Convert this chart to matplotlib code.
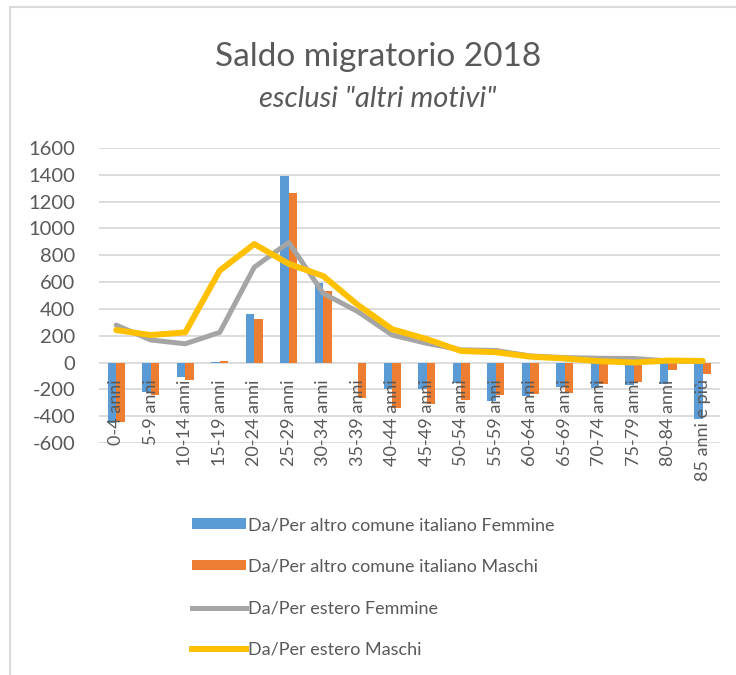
"""
Saldo migratorio 2018 - esclusi "altri motivi"

运行：
    python plot.py
"""

import matplotlib

matplotlib.use("Agg")
import matplotlib.pyplot as plt
import numpy as np
from matplotlib.lines import Line2D
from matplotlib.patches import Patch, Rectangle


CATEGORIES = [
    "0-4 anni", "5-9 anni", "10-14 anni", "15-19 anni", "20-24 anni",
    "25-29 anni", "30-34 anni", "35-39 anni", "40-44 anni", "45-49 anni",
    "50-54 anni", "55-59 anni", "60-64 anni", "65-69 anni", "70-74 anni",
    "75-79 anni", "80-84 anni", "85 anni e più",
]
COMUNE_FEMMINE = [-450, -220, -110, 5, 360, 1390, 595, 0, -200, -200,
                  -150, -285, -250, -180, -192, -168, -160, -418]
COMUNE_MASCHI = [-440, -245, -130, 10, 322, 1265, 530, -265, -340, -310,
                 -276, -242, -238, -228, -162, -145, -56, -84]
ESTERO_FEMMINE = [279, 168, 140, 225, 711, 896, 516, 380, 205, 143,
                  95, 90, 49, 37, 32, 30, 12, 7]
ESTERO_MASCHI = [242, 205, 225, 686, 884, 736, 645, 430, 248, 175,
                 86, 77, 44, 30, 10, 0, 15, 12]
LABELS = [
    "Da/Per altro comune italiano Femmine",
    "Da/Per altro comune italiano Maschi",
    "Da/Per estero Femmine",
    "Da/Per estero Maschi",
]
Y_TICKS = list(range(-600, 1601, 200))

BLUE = "#5B9BD5"
ORANGE = "#ED7D31"
GREY = "#A5A5A5"
YELLOW = "#FFC000"
TEXT = "#595959"
GRID = "#D9D9D9"


def draw_chart() -> None:
    plt.rcParams["font.family"] = ["Lato", "DejaVu Sans"]

    fig = plt.figure(figsize=(7.36, 6.75), dpi=100)
    ax = fig.add_axes([99 / 736, 1 - 443 / 675, 621 / 736, 295 / 675])

    x = np.arange(len(CATEGORIES))
    w = 0.25
    ax.bar(x - w / 2, COMUNE_FEMMINE, w, color=BLUE, zorder=2)
    ax.bar(x + w / 2, COMUNE_MASCHI, w, color=ORANGE, zorder=2)
    ax.plot(x, ESTERO_FEMMINE, color=GREY, lw=3.6, zorder=3,
            solid_capstyle="round", solid_joinstyle="round")
    ax.plot(x, ESTERO_MASCHI, color=YELLOW, lw=4.3, zorder=4,
            solid_capstyle="round", solid_joinstyle="round")

    ax.set_xlim(-0.5, len(CATEGORIES) - 0.5)
    ax.set_ylim(-600, 1600)
    ax.set_yticks(Y_TICKS)
    ax.set_yticklabels([str(v) for v in Y_TICKS], fontsize=14.5, color=TEXT)
    ax.grid(axis="y", color=GRID, lw=1.3, zorder=0)
    ax.tick_params(axis="y", length=0, pad=17)

    # etichette categorie attaccate all'asse dello zero, come in Excel
    ax.spines["bottom"].set_position(("data", 0))
    for side in ["top", "right", "left", "bottom"]:
        ax.spines[side].set_visible(False)
    ax.set_xticks(x)
    ax.set_xticklabels(CATEGORIES, rotation=90, fontsize=13, color=TEXT,
                       va="top", ha="center")
    ax.tick_params(axis="x", length=0, pad=12)
    ax.xaxis.set_zorder(5)

    fig.text(0.5136, 1 - 57 / 675, "Saldo migratorio 2018", fontsize=24,
             color=TEXT, ha="center", va="center")
    fig.text(0.5136, 1 - 99 / 675, 'esclusi "altri motivi"', fontsize=21,
             style="italic", color=TEXT, ha="center", va="center")

    handles = [
        Patch(facecolor=BLUE),
        Patch(facecolor=ORANGE),
        Line2D([], [], color=GREY, lw=3.6),
        Line2D([], [], color=YELLOW, lw=4.3),
    ]
    leg = fig.legend(handles, LABELS, loc="upper left",
                     bbox_to_anchor=(183 / 736, 1 - 508 / 675), frameon=False,
                     fontsize=13, handlelength=3.0, handleheight=0.5,
                     handletextpad=0.1, labelspacing=1.42, borderpad=0)
    for t in leg.get_texts():
        t.set_color(TEXT)

    fig.add_artist(Rectangle((10 / 736, -0.02), 1.05, 1 - 7 / 675 + 0.02,
                             transform=fig.transFigure, fill=False,
                             edgecolor=GRID, lw=1.5))

    fig.savefig("out.png", dpi=100)
    plt.close(fig)


def main() -> None:
    draw_chart()


if __name__ == "__main__":
    main()
